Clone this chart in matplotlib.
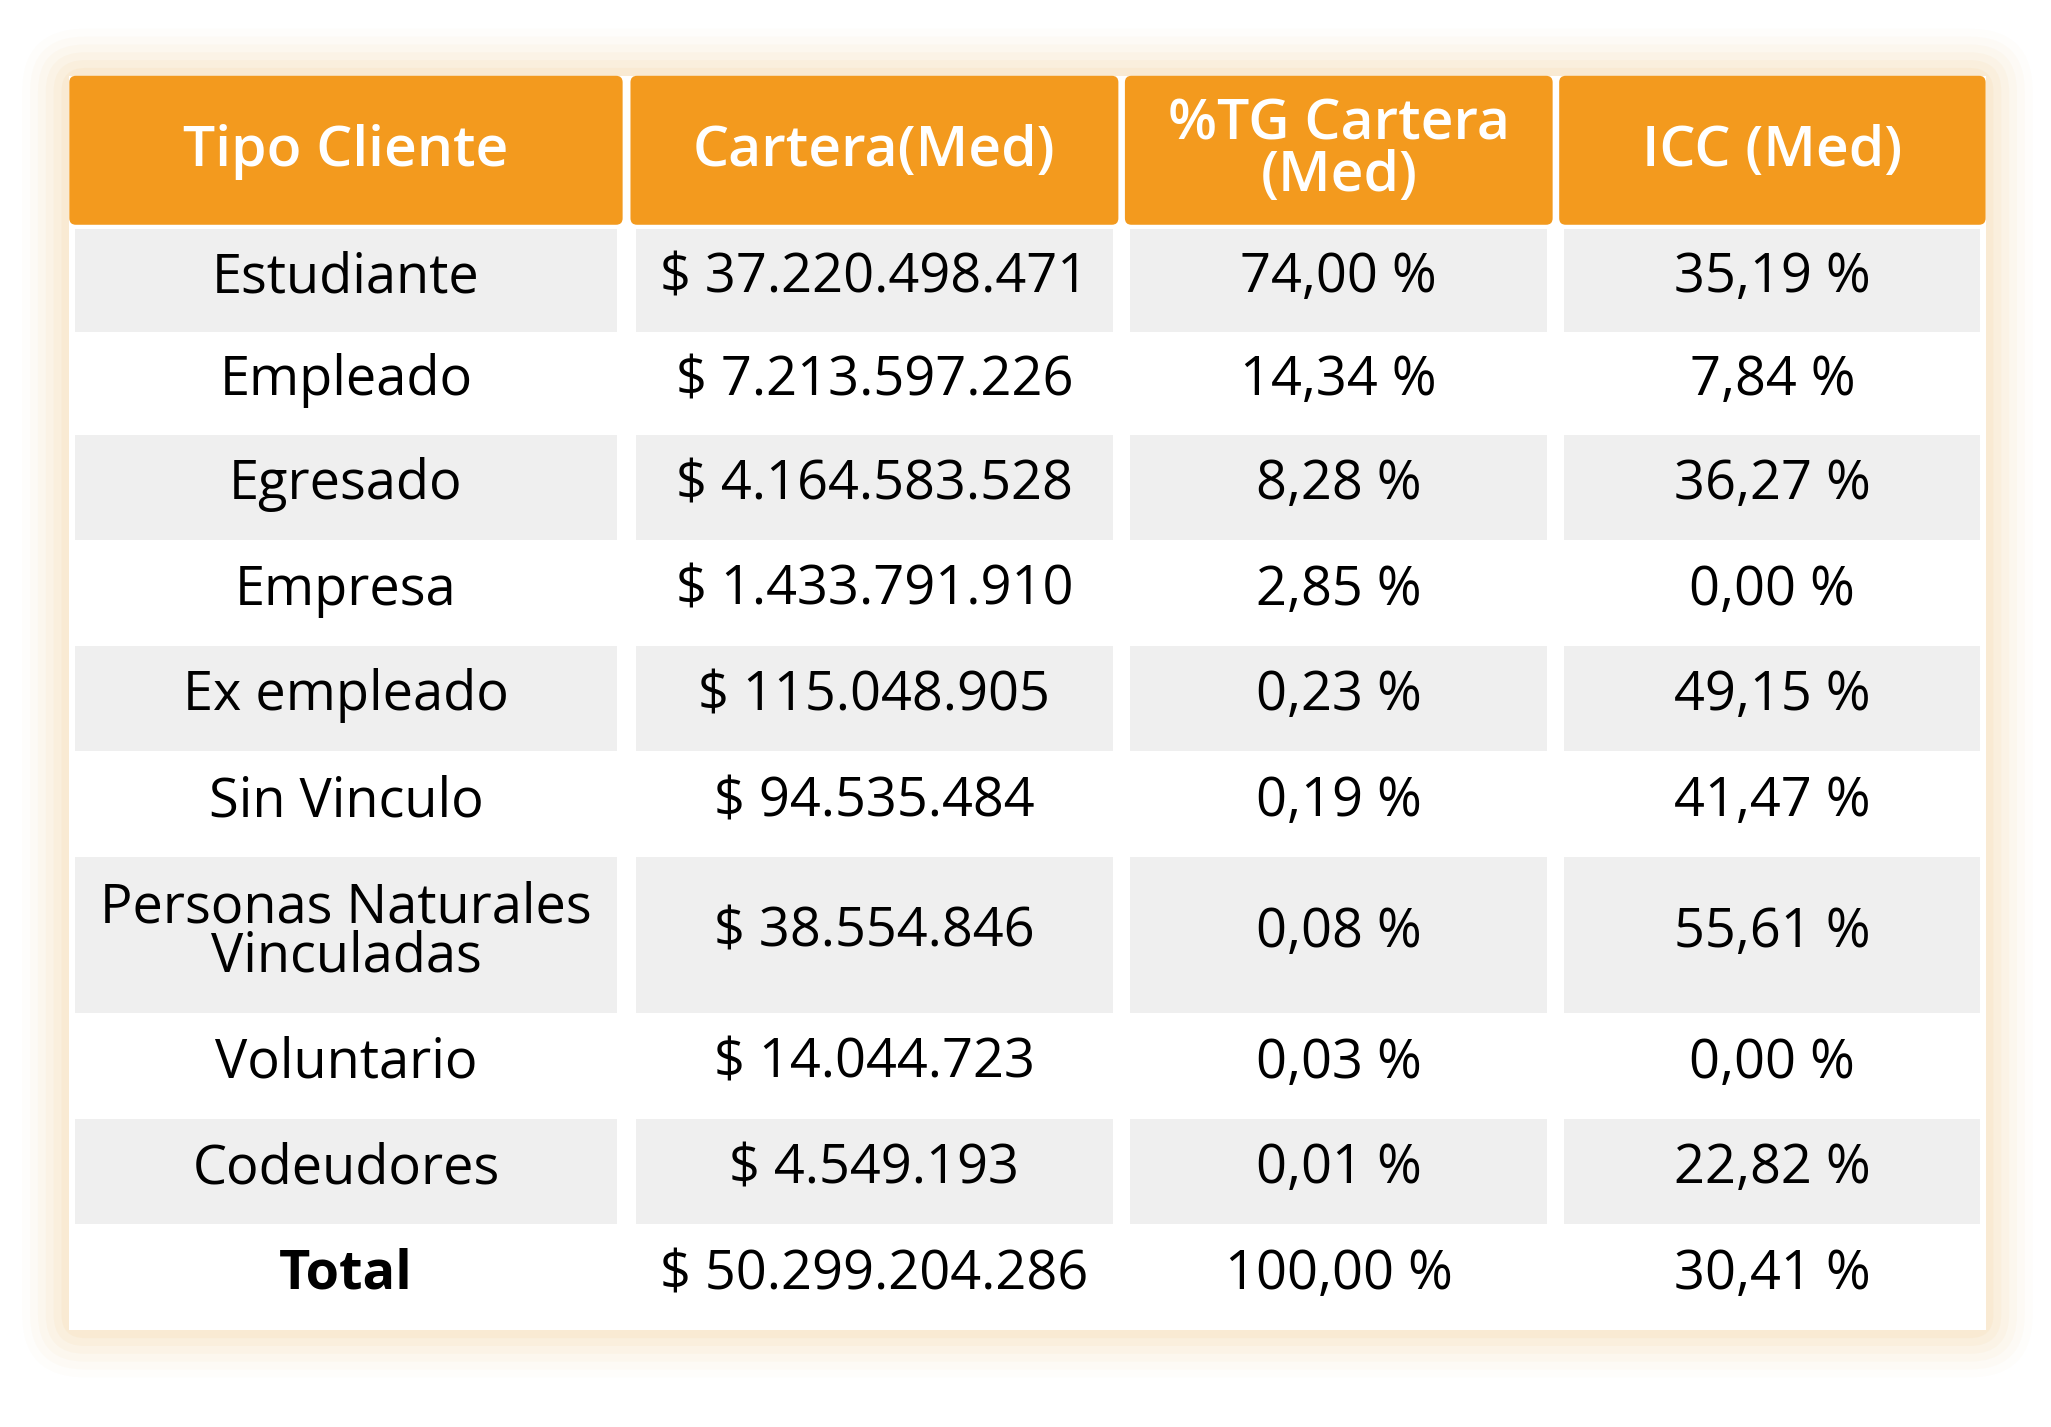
import matplotlib
matplotlib.use("Agg")
import matplotlib.pyplot as plt
from matplotlib.patches import Rectangle, FancyBboxPatch

headers = ["Tipo Cliente", "Cartera(Med)", "%TG Cartera\n(Med)", "ICC (Med)"]
tipos = ["Estudiante", "Empleado", "Egresado", "Empresa", "Ex empleado", "Sin Vinculo",
         "Personas Naturales\nVinculadas", "Voluntario", "Codeudores", "Total"]
cartera = ["$ 37.220.498.471", "$ 7.213.597.226", "$ 4.164.583.528", "$ 1.433.791.910",
           "$ 115.048.905", "$ 94.535.484", "$ 38.554.846", "$ 14.044.723", "$ 4.549.193",
           "$ 50.299.204.286"]
tg = ["74,00 %", "14,34 %", "8,28 %", "2,85 %", "0,23 %", "0,19 %", "0,08 %", "0,03 %",
      "0,01 %", "100,00 %"]
icc = ["35,19 %", "7,84 %", "36,27 %", "0,00 %", "49,15 %", "41,47 %", "55,61 %", "0,00 %",
       "22,82 %", "30,41 %"]

W, H = 1568, 1092
fig = plt.figure(figsize=(20.51, 14.27), dpi=100)
ax = fig.add_axes([0, 0, 1, 1])
ax.set_xlim(0, W); ax.set_ylim(H, 0); ax.axis("off")

FONT = "Open Sans"
FS = 39
orange = "#F39A1E"

# glow
for i, a in enumerate([0.025, 0.035, 0.045, 0.055, 0.065, 0.075]):
    pad = 36 - i * 6
    ax.add_patch(FancyBboxPatch((53 - pad, 58 - pad), 1465 + 2 * pad, 960 + 2 * pad,
                                boxstyle="round,pad=0,rounding_size=%d" % (pad + 12),
                                fc="#F7B960", ec="none", alpha=a, zorder=0))
ax.add_patch(Rectangle((53, 58), 1465, 960, fc="white", ec="none", zorder=1))

cols = [(53, 476), (482, 855), (860, 1187), (1192, 1518)]
dcols = [(57, 472), (486, 851), (864, 1183), (1196, 1514)]
for (x0, x1), h in zip(cols, headers):
    ax.add_patch(FancyBboxPatch((x0, 58), x1 - x0, 114, boxstyle="round,pad=0,rounding_size=5",
                                fc=orange, ec="none", zorder=2))
    ax.text((x0 + x1) / 2, 116, h, ha="center", va="center", color="white",
            fontsize=41, fontweight="semibold", family=FONT, linespacing=0.9, zorder=3)

bounds = [175, 254, 333, 413, 494, 575, 656, 775, 856, 937, 1018]
for r in range(len(tipos)):
    y0, y1 = bounds[r], bounds[r + 1]
    fc = "#EFEFEF" if r % 2 == 0 else "white"
    vals = [tipos[r], cartera[r], tg[r], icc[r]]
    for c, ((x0, x1), v) in enumerate(zip(dcols, vals)):
        ax.add_patch(Rectangle((x0, y0), x1 - x0, y1 - y0, fc=fc, ec="none", zorder=2))
        bold = (c == 0 and tipos[r] == "Total")
        ax.text((x0 + x1) / 2, (y0 + y1) / 2 - 2, v, ha="center", va="center", color="black",
                fontsize=FS, family=FONT, fontweight="bold" if bold else "normal",
                linespacing=0.85, zorder=3)

fig.savefig("out.png", dpi=100, facecolor="white")
